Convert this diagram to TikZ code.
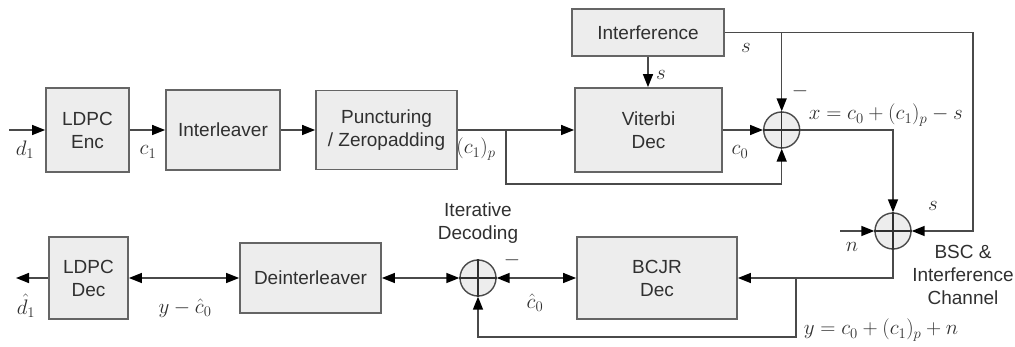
\RequirePackage{fix-cm}
\documentclass[tikz,border=0pt]{standalone}
\usepackage[no-math]{fontspec}
\setmainfont{Liberation Sans}
\usetikzlibrary{arrows.meta,calc}
\definecolor{lc}{HTML}{4A4A4A}
\definecolor{bc}{HTML}{656565}
\definecolor{tc}{HTML}{303030}
\definecolor{bf}{HTML}{EDEDED}
\tikzset{
  blk/.style={draw=bc, fill=bf, line width=1.8pt, align=center, inner sep=0pt, text=tc, font=\fontsize{19}{23}\selectfont},
  sumn/.style={circle, draw=lc, fill=bf, line width=1.4pt, minimum size=36pt, inner sep=0pt},
  tip/.tip={Triangle[length=13pt,width=10pt,color=black]},
  arr/.style={-tip},
  darr/.style={tip-tip},
  mlab/.style={inner sep=0pt, text=tc, font=\fontsize{21}{25}\selectfont},
  tlab/.style={inner sep=0pt, align=center, text=tc, font=\fontsize{19}{23}\selectfont}
}
\begin{document}
\begin{tikzpicture}[x=1pt,y=-1pt,line width=1.5pt,color=lc]
\useasboundingbox (0,0) rectangle (1015,347);
% blocks
\node[blk, minimum width=83pt, minimum height=84pt] (enc) at (87.5,130) {LDPC\\Enc};
\node[blk, minimum width=114pt, minimum height=80pt] (intl) at (223,130) {Interleaver};
\node[blk, minimum width=141pt, minimum height=79pt] (punc) at (386.5,130) {Puncturing\\/ Zeropadding};
\node[blk, minimum width=147pt, minimum height=84pt] (vit) at (648.5,130) {Viterbi\\Dec};
\node[blk, minimum width=152pt, minimum height=47pt] (intf) at (648,32.5) {Interference};
\node[blk, minimum width=160pt, minimum height=82pt] (bcjr) at (657,278) {BCJR\\Dec};
\node[blk, minimum width=141pt, minimum height=70pt] (deint) at (310.5,278) {Deinterleaver};
\node[blk, minimum width=79pt, minimum height=82pt] (dec) at (88.5,278) {LDPC\\Dec};
% summing junctions
\node[sumn] (s1) at (781.7,130) {};
\node[sumn] (s2) at (893,231) {};
\node[sumn] (s3) at (478,278) {};
\foreach \s in {s1,s2,s3}{\draw[color=tc] (\s.north) -- (\s.south) (\s.west) -- (\s.east);}
% connectors
\coordinate (in) at (9,130);
\draw[arr] (in) -- (enc.west);
\draw[arr] (enc.east) -- (intl.west);
\draw[arr] (intl.east) -- (punc.west);
\draw[arr] (punc.east) -- (vit.west);
\coordinate (b1) at (506,130);
\coordinate (b1d) at (506,184);
\draw[arr] (b1) -- (b1d) -| (s1.south);
\draw[arr] (vit.east) -- (s1.west);
\draw[arr] (intf.south) -- (intf.south |- vit.north);
\coordinate (tr) at (973,32.5);
\draw (intf.east) -- (tr);
\draw[arr] (tr) |- (s2.east);
\draw[arr] (s1 |- intf.east) -- (s1.north);
\draw[arr] (s1.east) -| (s2.north);
\coordinate (nin) at (840,231);
\draw[arr] (nin) -- (s2.west);
\draw[arr] (s2.south) |- (bcjr.east);
\coordinate (b2) at (796,278);
\coordinate (b2d) at (796,337);
\draw[arr] (b2) -- (b2d) -| (s3.south);
\draw[darr] (s3.east) -- (bcjr.west);
\draw[darr] (deint.east) -- (s3.west);
\draw[darr] (dec.east) -- (deint.west);
\coordinate (out) at (16,278);
\draw[arr] (dec.west) -- (out);
% labels
\node[mlab] (ld1) at (25,150) {$d_1$};
\node[mlab] (lc1) at (148,152) {$c_1$};
\node[mlab] (lc1p) at (476,149) {$(c_1)_p$};
\node[mlab] (ls1) at (661,75) {$s$};
\node[mlab] (ls2) at (746,48) {$s$};
\node[mlab] (lm1) at (800,91) {$-$};
\node[mlab] (lc0) at (740,152) {$c_0$};
\node[mlab, anchor=west] (lx) at (808,115) {$x=c_0+(c_1)_p-s$};
\node[mlab] (ls3) at (933,206) {$s$};
\node[mlab] (ln) at (852,247) {$n$};
\node[tlab] (bsc) at (963,275) {BSC \&\\Interference\\Channel};
\node[mlab, anchor=west] (ly) at (803,330) {$y=c_0+(c_1)_p+n$};
\node[tlab] (itd) at (478,223) {Iterative\\Decoding};
\node[mlab] (lm2) at (512,260) {$-$};
\node[mlab] (lch) at (535,303) {$\hat{c}_0$};
\node[mlab] (lyc) at (185,308) {$y-\hat{c}_0$};
\node[mlab] (ldh) at (26,306) {$\hat{d}_1$};
\end{tikzpicture}
\end{document}
